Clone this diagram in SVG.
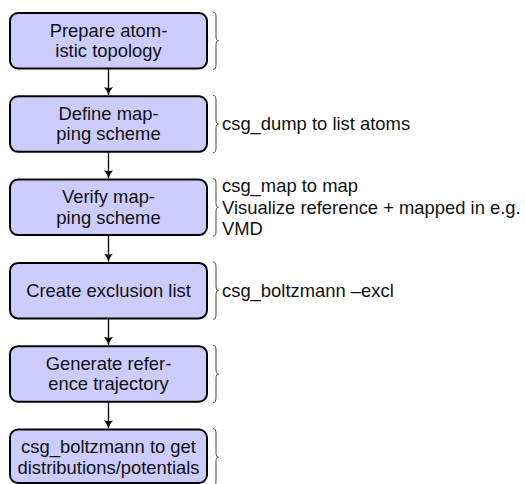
<svg xmlns="http://www.w3.org/2000/svg" width="525" height="484" viewBox="0 0 525 484">
<style>
.box{fill:#ccccff;stroke:#000;stroke-width:2}
.t{font-family:"Liberation Sans",Arial,sans-serif;font-size:18.4px;fill:#111}
.c{text-anchor:middle}
.br{fill:none;stroke:#333;stroke-width:0.9}
.ar{stroke:#000;stroke-width:1.3;fill:none}
</style>
<defs>
<marker id="ah" markerWidth="12" markerHeight="12" refX="8" refY="5" orient="auto" markerUnits="userSpaceOnUse">
<path d="M0,0.5 Q3.5,3.5 8,5 Q3.5,6.5 0,9.5 Q1.8,5 0,0.5Z" fill="#000"/>
</marker>
</defs>
<rect width="525" height="484" fill="#fff"/>
<g id="connectors">
<line class="ar" x1="108.5" y1="69" x2="108.5" y2="95" marker-end="url(#ah)"/>
<line class="ar" x1="108.5" y1="152.3" x2="108.5" y2="178.3" marker-end="url(#ah)"/>
<line class="ar" x1="108.5" y1="235.6" x2="108.5" y2="261.6" marker-end="url(#ah)"/>
<line class="ar" x1="108.5" y1="318.9" x2="108.5" y2="344.9" marker-end="url(#ah)"/>
<line class="ar" x1="108.5" y1="402.2" x2="108.5" y2="428.2" marker-end="url(#ah)"/>
</g>
<g id="n1">
<rect class="box" x="10" y="13" width="197" height="55.5" rx="8"/>
<text class="t c" x="108.5" y="36.5">Prepare atom-</text>
<text class="t c" x="108.5" y="57">istic topology</text>
<path class="br" d="M213,12 Q216,12 216,17 L216,36 Q216,40.7 218.5,40.7 Q216,40.7 216,45 L216,64.5 Q216,69.5 213,69.5"/>
</g>
<g id="n2">
<rect class="box" x="10" y="96.3" width="197" height="55.5" rx="8"/>
<text class="t c" x="108.5" y="119.8">Define map-</text>
<text class="t c" x="108.5" y="140.3">ping scheme</text>
<path class="br" d="M213,95.3 Q216,95.3 216,100.3 L216,119.3 Q216,124 218.5,124 Q216,124 216,128.3 L216,147.8 Q216,152.8 213,152.8"/>
<text class="t" x="222" y="130.3">csg_dump to list atoms</text>
</g>
<g id="n3">
<rect class="box" x="10" y="179.6" width="197" height="55.5" rx="8"/>
<text class="t c" x="108.5" y="203.1">Verify map-</text>
<text class="t c" x="108.5" y="223.6">ping scheme</text>
<path class="br" d="M213,178.6 Q216,178.6 216,183.6 L216,202.6 Q216,207.3 218.5,207.3 Q216,207.3 216,211.6 L216,231.1 Q216,236.1 213,236.1"/>
<text class="t" x="222" y="192">csg_map to map</text>
<text class="t" x="222" y="213.5">Visualize reference + mapped in e.g.</text>
<text class="t" x="222" y="235">VMD</text>
</g>
<g id="n4">
<rect class="box" x="10" y="262.9" width="197" height="55.5" rx="8"/>
<text class="t c" x="108.5" y="297">Create exclusion list</text>
<path class="br" d="M213,261.9 Q216,261.9 216,266.9 L216,285.9 Q216,290.6 218.5,290.6 Q216,290.6 216,294.9 L216,314.4 Q216,319.4 213,319.4"/>
<text class="t" x="222" y="297">csg_boltzmann –excl</text>
</g>
<g id="n5">
<rect class="box" x="10" y="346.2" width="197" height="55.5" rx="8"/>
<text class="t c" x="108.5" y="369.7">Generate refer-</text>
<text class="t c" x="108.5" y="390.2">ence trajectory</text>
<path class="br" d="M213,345.2 Q216,345.2 216,350.2 L216,369.2 Q216,373.9 218.5,373.9 Q216,373.9 216,378.2 L216,397.7 Q216,402.7 213,402.7"/>
</g>
<g id="n6">
<rect class="box" x="10" y="429.5" width="197" height="53.5" rx="8"/>
<text class="t c" x="108.5" y="453">csg_boltzmann to get</text>
<text class="t c" x="108.5" y="473.5">distributions/potentials</text>
<path class="br" d="M213,428.5 Q216,428.5 216,433.5 L216,452.5 Q216,457.2 218.5,457.2 Q216,457.2 216,461.5 L216,481 Q216,486 213,486"/>
</g>
</svg>
